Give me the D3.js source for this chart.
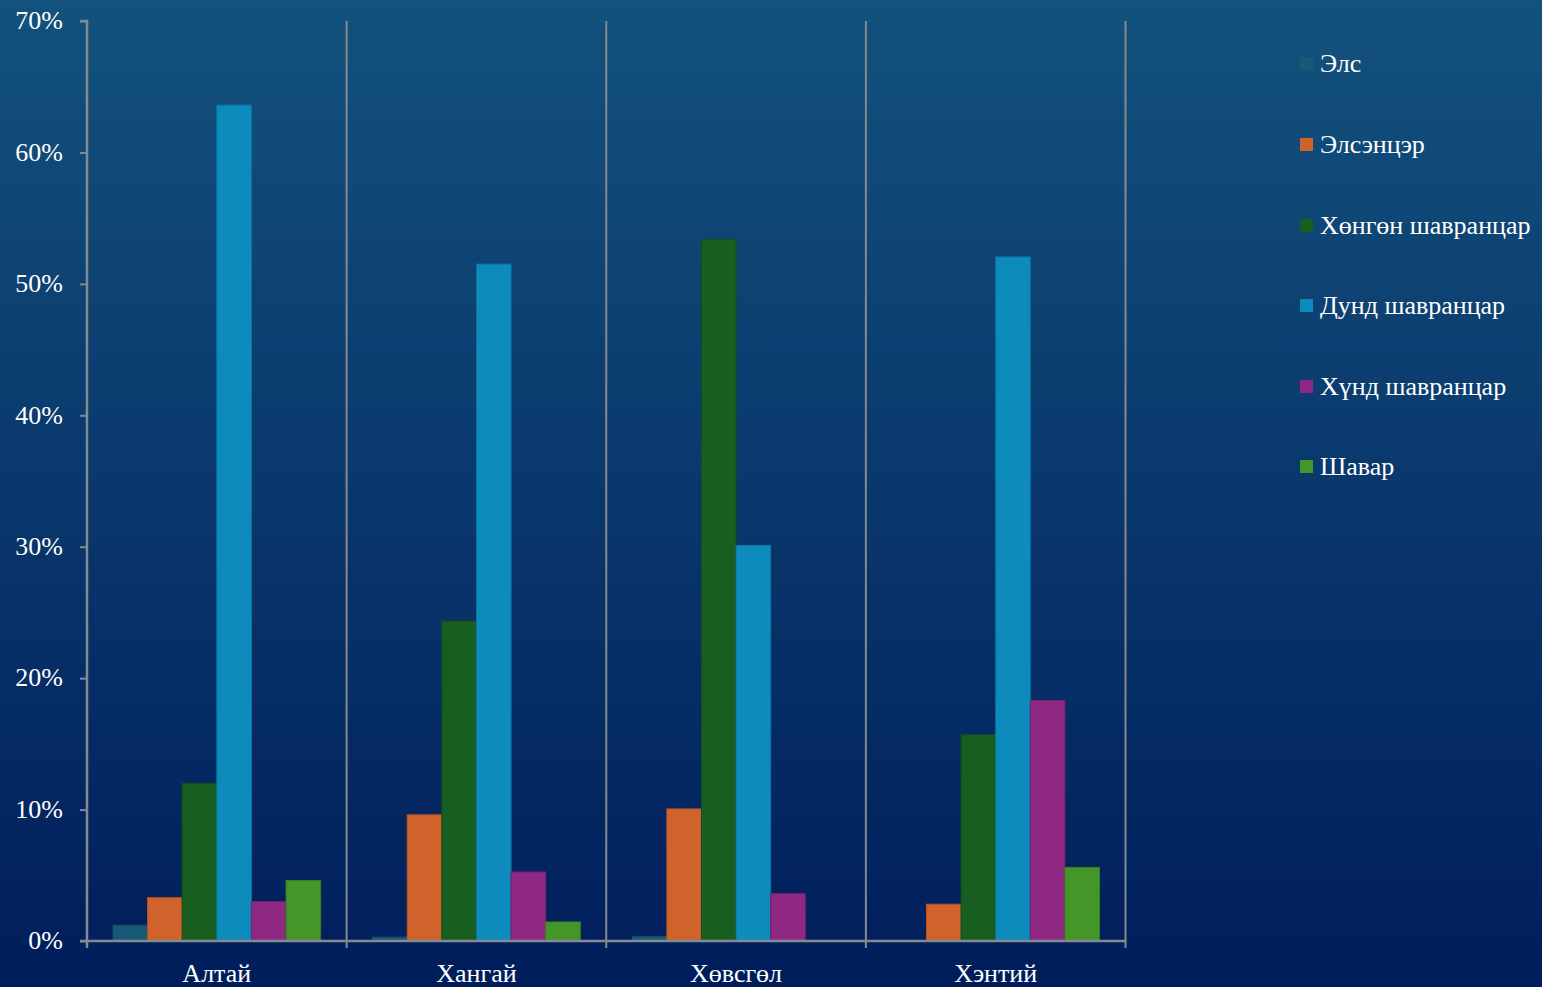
<!DOCTYPE html>
<html><head><meta charset="utf-8">
<script src="https://cdn.jsdelivr.net/npm/d3@7"></script>
<style>html,body{margin:0;padding:0;overflow:hidden;}svg{display:block;}</style>
</head><body>
<svg id="chart" width="1542" height="987"></svg>
<script>
const categories = ["Алтай", "Хангай", "Хөвсгөл", "Хэнтий"];
const seriesNames = ["Элс", "Элсэнцэр", "Хөнгөн шавранцар", "Дунд шавранцар", "Хүнд шавранцар", "Шавар"];
const elsValues = [1.2, 0.3, 0.35, 0];
const elsentserValues = [3.3, 9.6, 10.05, 2.8];
const khongonValues = [12.0, 24.35, 53.4, 15.7];
const dundValues = [63.6, 51.5, 30.1, 52.05];
const khundValues = [3.0, 5.25, 3.6, 18.3];
const shavarValues = [4.6, 1.45, 0, 5.6];
const yTicks = [0, 10, 20, 30, 40, 50, 60, 70];
const colors = ["#175a78", "#d0632b", "#185e20", "#0e8bbd", "#8e2882", "#459628"];
const strokes = ["#134d68", "#b45424", "#134e1a", "#0c76a0", "#77216d", "#3a7f22"];

const seriesValues = [elsValues, elsentserValues, khongonValues, dundValues, khundValues, shavarValues];

(function () {
const svg = d3.select("#chart");
const W = 1542, H = 987;
const defs = svg.append("defs");
const grad = defs.append("linearGradient").attr("id","bg").attr("x1",0).attr("y1",0).attr("x2",0).attr("y2",1);
grad.append("stop").attr("offset","0%").attr("stop-color","#13527d");
grad.append("stop").attr("offset","100%").attr("stop-color","#001d5b");
svg.append("rect").attr("width",W).attr("height",H).attr("fill","url(#bg)");

const pLeft = 87, pRight = 1125.5, pTop = 21, pBottom = 941;
const x0 = d3.scaleBand().domain(categories).range([pLeft, pRight]).paddingInner(0).paddingOuter(0);
const x1 = d3.scaleBand().domain(seriesNames).range([0, x0.bandwidth()]).paddingOuter(0.75).paddingInner(0);
const y = d3.scaleLinear().domain([0, 70]).range([pBottom, pTop]);

const font = "'Liberation Serif','Times New Roman',serif";
const axisColor = "#858a90";
const fs = 26;

categories.forEach((c) => {
  const xx = x0(c) + x0.bandwidth();
  svg.append("line").attr("x1", xx).attr("x2", xx).attr("y1", pTop).attr("y2", pBottom + 7)
    .attr("stroke", axisColor).attr("stroke-width", 2);
});

categories.forEach((c, ci) => {
  const g = svg.append("g").attr("transform", `translate(${x0(c)},0)`);
  seriesNames.forEach((s, si) => {
    const v = seriesValues[si][ci];
    if (v <= 0) return;
    g.append("rect")
      .attr("x", x1(s)).attr("width", x1.bandwidth())
      .attr("y", y(v)).attr("height", pBottom - y(v))
      .attr("fill", colors[si]).attr("stroke", strokes[si]).attr("stroke-width", 1);
  });
});

const yAxis = d3.axisLeft(y).tickValues(yTicks).tickFormat(d => d + "%").tickSize(7).tickPadding(17);
const ya = svg.append("g").attr("transform", `translate(${pLeft},0)`).call(yAxis);
ya.select(".domain").attr("stroke", axisColor).attr("stroke-width", 2.5).attr("d", `M-7,${pTop}H0V${pBottom}`);
ya.selectAll(".tick line").attr("stroke", axisColor).attr("stroke-width", 2);
ya.selectAll(".tick text").attr("fill", "#ffffff").attr("font-family", font).attr("font-size", fs).attr("dy", "0.3em");

svg.append("line").attr("x1", pLeft - 7).attr("x2", pRight).attr("y1", pBottom).attr("y2", pBottom)
  .attr("stroke", axisColor).attr("stroke-width", 2.5);
svg.append("line").attr("x1", pLeft).attr("x2", pLeft).attr("y1", pBottom).attr("y2", pBottom + 7)
  .attr("stroke", axisColor).attr("stroke-width", 2.5);
svg.selectAll(".cat").data(categories).enter().append("text")
  .attr("x", d => x0(d) + x0.bandwidth() / 2).attr("y", 982)
  .attr("text-anchor", "middle").attr("fill", "#ffffff")
  .attr("font-family", font).attr("font-size", fs).text(d => d);

const legY = [63, 144, 225, 305, 386, 466];
const leg = svg.append("g");
seriesNames.forEach((s, i) => {
  leg.append("rect").attr("x", 1300).attr("y", legY[i] - 6).attr("width", 13).attr("height", 13).attr("fill", colors[i]);
  leg.append("text").attr("x", 1320).attr("y", legY[i] + 9).attr("fill", "#ffffff")
    .attr("font-family", font).attr("font-size", fs).text(s);
});
})();
</script>
</body></html>
